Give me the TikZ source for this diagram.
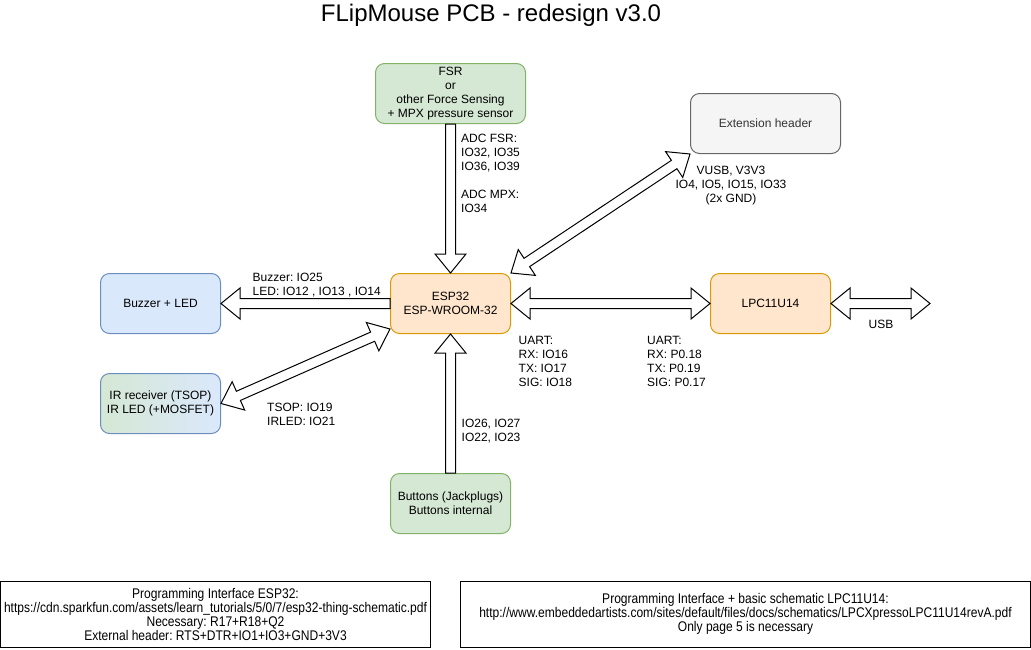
\documentclass[tikz,border=0pt]{standalone}
\usepackage{fontspec}
\setmainfont{Liberation Sans}
\newfontfamily\narrowfont[FakeStretch=0.86]{Liberation Sans}
\usetikzlibrary{calc}
\frenchspacing

\definecolor{grfill}{HTML}{D5E8D4}
\definecolor{grline}{HTML}{82B366}
\definecolor{blfill}{HTML}{DAE8FC}
\definecolor{blline}{HTML}{6C8EBF}
\definecolor{orfill}{HTML}{FFE6CC}
\definecolor{orline}{HTML}{D79B00}
\definecolor{gyfill}{HTML}{F5F5F5}
\definecolor{gyline}{HTML}{666666}
\definecolor{gytext}{HTML}{333333}

\tikzset{
	block/.style={draw, rounded corners=9pt, line width=1pt, minimum width=120pt, minimum height=60pt, align=center, inner sep=2pt, font=\fontsize{12}{14}\selectfont},
	greenblock/.style={block, fill=grfill, draw=grline},
	blueblock/.style={block, fill=blfill, draw=blline},
	orangeblock/.style={block, fill=orfill, draw=orline},
	greyblock/.style={block, fill=gyfill, draw=gyline, text=gytext},
	infobox/.style={draw, line width=1pt, align=center, inner sep=2pt, font=\narrowfont\fontsize{14}{14}\selectfont},
	lbl/.style={inner sep=0pt, align=left, font=\fontsize{12}{14}\selectfont},
	fatline/.style={draw=black, fill=white, line width=1pt, line join=miter},
}

% hollow arrow, one head at #2
\newcommand{\fatone}[2]{%
	\draw[fatline] let \p1=(#1), \p2=(#2), \n1={atan2(\y2-\y1,\x2-\x1)}, \n2={veclen(\x2-\x1,\y2-\y1)} in
		[shift={(\p1)}, rotate=\n1] (0pt,-5pt) -- (\n2-19pt,-5pt) -- (\n2-19pt,-15.5pt) -- (\n2,0pt)
		-- (\n2-19pt,15.5pt) -- (\n2-19pt,5pt) -- (0pt,5pt) -- cycle;}
% hollow arrow, heads at both ends
\newcommand{\fatboth}[2]{%
	\draw[fatline] let \p1=(#1), \p2=(#2), \n1={atan2(\y2-\y1,\x2-\x1)}, \n2={veclen(\x2-\x1,\y2-\y1)} in
		[shift={(\p1)}, rotate=\n1] (0pt,0pt) -- (19pt,-15.5pt) -- (19pt,-5pt) -- (\n2-19pt,-5pt) -- (\n2-19pt,-15.5pt) -- (\n2,0pt)
		-- (\n2-19pt,15.5pt) -- (\n2-19pt,5pt) -- (19pt,5pt) -- (19pt,15.5pt) -- cycle;}

\begin{document}
\begin{tikzpicture}[x=1pt, y=-1pt]
	\useasboundingbox (0,0) rectangle (1031,649);

	\node (title) at (491,15) {\fontsize{24}{28}\selectfont FLipMouse PCB - redesign v3.0};

	% blocks
	\node[greenblock, minimum width=150pt] (fsr) at (450.5,93.5) {FSR\\or\\other Force Sensing\\+ MPX pressure sensor};
	\node[greyblock, minimum width=150pt] (ext) at (765.5,123.5) {Extension header};
	\node[blueblock] (buzzer) at (160.5,303.5) {Buzzer + LED};
	\node[orangeblock] (esp) at (450.5,303.5) {ESP32\\ESP-WROOM-32};
	\node[orangeblock] (lpc) at (770.5,303.5) {LPC11U14};
	\node[block, left color=grfill, right color=blfill, draw=blline] (ir) at (160.5,403.5) {IR receiver (TSOP)\\IR LED (+MOSFET)};
	\node[greenblock] (buttons) at (450.5,503.5) {Buttons (Jackplugs)\\Buttons internal};

	\coordinate (espir) at ($(esp.south west)+(0,-5)$);
	\coordinate (usbend) at (930,303.5);

	% connections
	\fatone{fsr.south}{esp.north}
	\fatone{buttons.north}{esp.south}
	\fatone{esp.west}{buzzer.east}
	\fatboth{esp.east}{lpc.west}
	\fatboth{lpc.east}{usbend}
	\fatboth{esp.north east}{ext.south west}
	\fatboth{espir}{ir.east}

	% pin labels
	\node[lbl, anchor=north west] (lfsr) at (461,134) {ADC FSR:\\IO32, IO35\\IO36, IO39\\[14pt]ADC MPX:\\IO34};
	\node[lbl, anchor=north, align=center] (lext) at (731,165.5) {VUSB, V3V3\\IO4, IO5, IO15, IO33\\(2x GND)};
	\node[lbl, anchor=north west] (lbuz) at (252.5,272.5) {Buzzer: IO25\\LED: IO12 , IO13 , IO14};
	\node[lbl, anchor=north west] (lir) at (267,402.5) {TSOP: IO19\\IRLED: IO21};
	\node[lbl, anchor=north west] (luartesp) at (518.5,336) {UART:\\RX: IO16\\TX: IO17\\SIG: IO18};
	\node[lbl, anchor=north west] (luartlpc) at (647,336) {UART:\\RX: P0.18\\TX: P0.19\\SIG: P0.17};
	\node[lbl, anchor=north] (lusb) at (881,319.5) {USB};
	\node[lbl, anchor=north west] (lbtn) at (461.5,418.5) {IO26, IO27\\IO22, IO23};

	% notes
	\node[infobox, minimum width=430pt, minimum height=66pt] (progesp) at (215.5,614) {Programming Interface ESP32:\\https://cdn.sparkfun.com/assets/learn\_tutorials/5/0/7/esp32-thing-schematic.pdf\\Necessary: R17+R18+Q2\\External header: RTS+DTR+IO1+IO3+GND+3V3};
	\node[infobox, minimum width=570pt, minimum height=66pt] (proglpc) at (745.5,614) {Programming Interface + basic schematic LPC11U14:\\http://www.embeddedartists.com/sites/default/files/docs/schematics/LPCXpressoLPC11U14revA.pdf\\Only page 5 is necessary};
\end{tikzpicture}
\end{document}
